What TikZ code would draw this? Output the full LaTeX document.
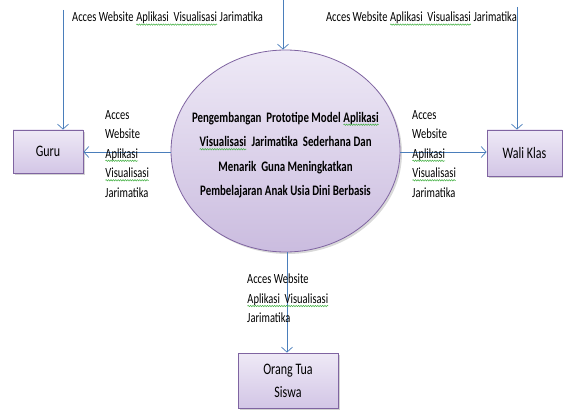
\documentclass[tikz,border=0pt]{standalone}
\usepackage{fontspec}
\setmainfont{Carlito}[FakeStretch=0.75]
\usetikzlibrary{arrows.meta,shadows,shapes.geometric,decorations.pathmorphing}

\definecolor{flowblue}{HTML}{4A7EBB}
\definecolor{boxedge}{HTML}{7F64A1}
\definecolor{boxtop}{HTML}{EEE9F6}
\definecolor{boxbot}{HTML}{D3C6E6}
\definecolor{sqgreen}{HTML}{3FAE3F}

% word with a green wavy underline (spell-check style)
\newcommand\sq[1]{\tikz[baseline=(w.base)]{\node[inner sep=0pt, outer sep=0pt] (w) {#1};
  \draw[sqgreen, line width=0.5pt, decorate, decoration={snake, amplitude=0.7pt, segment length=2.4pt}]
    ([yshift=-2.6pt]w.base west) -- ([yshift=-2.6pt]w.base east);}}

\tikzset{
  entity/.style={draw=boxedge, line width=0.8pt, top color=boxtop, bottom color=boxbot,
    drop shadow={shadow xshift=2pt, shadow yshift=-2pt, opacity=0.35},
    font=\fontsize{16}{23}\selectfont, align=center, inner sep=0pt},
  process/.style={ellipse, draw=boxedge, line width=0.8pt, top color=boxtop, bottom color=boxbot!90!boxedge,
    drop shadow={shadow xshift=2pt, shadow yshift=-2pt, opacity=0.3},
    minimum width=229pt, minimum height=202pt, inner sep=0pt},
  flow/.style={draw=flowblue, line width=0.7pt, -{Straight Barb[length=5pt,width=11pt]}},
  lbl/.style={font=\fontsize{14}{19.5}\selectfont, align=left, inner sep=0pt},
}

\begin{document}
\begin{tikzpicture}[x=1pt,y=-1pt]
\useasboundingbox (0,0) rectangle (563,412);

% external entities
\node[entity, minimum width=70pt, minimum height=43pt] (guru) at (48,151.5) {Guru};
\node[entity, minimum width=75pt, minimum height=46pt] (wali) at (524.5,153) {Wali Klas};
\node[entity, minimum width=100pt, minimum height=55pt] (ortu) at (288,380.5) {Orang Tua\\Siswa};

% central process
\node[process] (proc) at (285.5,151) {};
\node[font=\bfseries\fontsize{14.5}{24.5}\selectfont, align=center, inner sep=0pt] (ptext) at (285.5,155)
  {Pengembangan\ \ Prototipe Model \sq{Aplikasi}\\
   \sq{Visualisasi}\ \ Jarimatika\ \ Sederhana Dan\\
   Menarik\ \ Guna Meningkatkan\\
   Pembelajaran\ Anak Usia Dini Berbasis};

% incoming lines from the top edge
\coordinate (gsrc) at (63,10);
\coordinate (psrc) at (283,0);
\coordinate (wsrc) at (517,7);
\draw[flow] (gsrc) -- (gsrc |- guru.north);
\draw[flow] (psrc) -- (psrc |- proc.north);
\draw[flow] (wsrc) -- (wsrc |- wali.north);

% flows out of the process
\draw[flow] (proc.west |- 0,152) -- (guru.east |- 0,152);
\draw[flow] (proc.east |- 0,152) -- (wali.west |- 0,152);
\coordinate (pbot) at (287,252);
\draw[flow] (pbot) -- (pbot |- ortu.north);

% labels
\node[lbl, anchor=base west] (ltop) at (72,22) {Acces Website \sq{Aplikasi\ \ Visualisasi} Jarimatika};
\node[lbl, anchor=base east] (rtop) at (517,22) {Acces Website \sq{Aplikasi\ \ Visualisasi} Jarimatika};
\node[lbl, anchor=north west] (lleft) at (105,110)
  {Acces\\Website\\\sq{Aplikasi}\\\sq{Visualisasi}\\Jarimatika};
\node[lbl, anchor=north west] (lright) at (412,110)
  {Acces\\Website\\\sq{Aplikasi}\\\sq{Visualisasi}\\Jarimatika};
\node[lbl, anchor=north west] (lbot) at (247,274)
  {Acces Website\\\sq{Aplikasi\ \ Visualisasi}\\Jarimatika};
\end{tikzpicture}
\end{document}
